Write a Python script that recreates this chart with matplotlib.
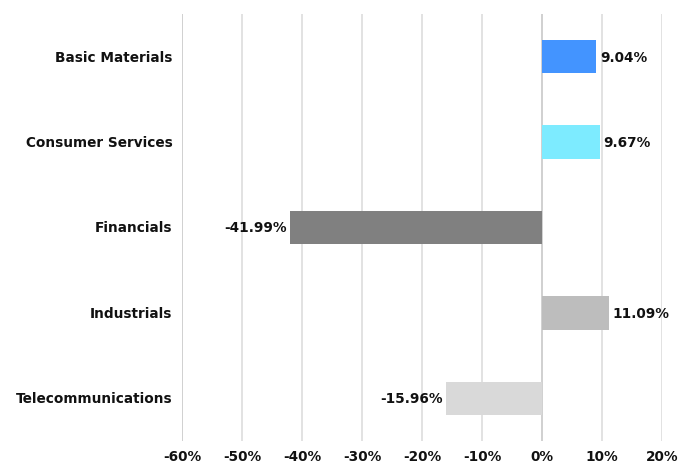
import matplotlib
matplotlib.use("Agg")
import matplotlib.pyplot as plt
from matplotlib.ticker import FuncFormatter

categories = ["Basic Materials", "Consumer Services", "Financials", "Industrials", "Telecommunications"]
values = [9.04, 9.67, -41.99, 11.09, -15.96]
colors = ["#4394FF", "#7DEBFF", "#808080", "#BDBDBD", "#D9D9D9"]
xticks = [-60, -50, -40, -30, -20, -10, 0, 10, 20]

plt.rcParams['font.family'] = ['DejaVu Sans']
FS = 9.8

fig = plt.figure(figsize=(6.81, 4.64), dpi=100)
ax = fig.add_axes([182/681, 1-442/464, (662-182)/681, (442-15)/464])

ypos = list(range(len(categories)))
ax.barh(ypos, values, height=0.39, color=colors, zorder=3)

ax.set_xlim(-60, 20)
ax.set_ylim(len(categories)-0.5, -0.5)
ax.set_xticks(xticks)
ax.xaxis.set_major_formatter(FuncFormatter(lambda v, p: f"{int(v)}%"))
ax.set_yticks(ypos)
ax.set_yticklabels(categories, va='center')

for x in xticks:
    c = "#C8C8C8" if x in (-60, 0) else "#DDDDDD"
    ax.axvline(x, color=c, linewidth=1.2, zorder=1)

for s in ax.spines.values():
    s.set_visible(False)
ax.tick_params(axis='both', length=0, labelsize=FS)
ax.tick_params(axis='y', pad=7)
ax.tick_params(axis='x', pad=6)
for lbl in ax.get_xticklabels() + ax.get_yticklabels():
    lbl.set_fontweight('bold')
    lbl.set_color('#111111')

for y, v in zip(ypos, values):
    txt = f"{v:.2f}%"
    if v >= 0:
        ax.text(v + 0.6, y, txt, va='center', ha='left', fontsize=FS, fontweight='bold', color='#111111', zorder=4)
    else:
        ax.text(v - 0.6, y, txt, va='center', ha='right', fontsize=FS, fontweight='bold', color='#111111', zorder=4)

fig.savefig("out.png", dpi=100)
